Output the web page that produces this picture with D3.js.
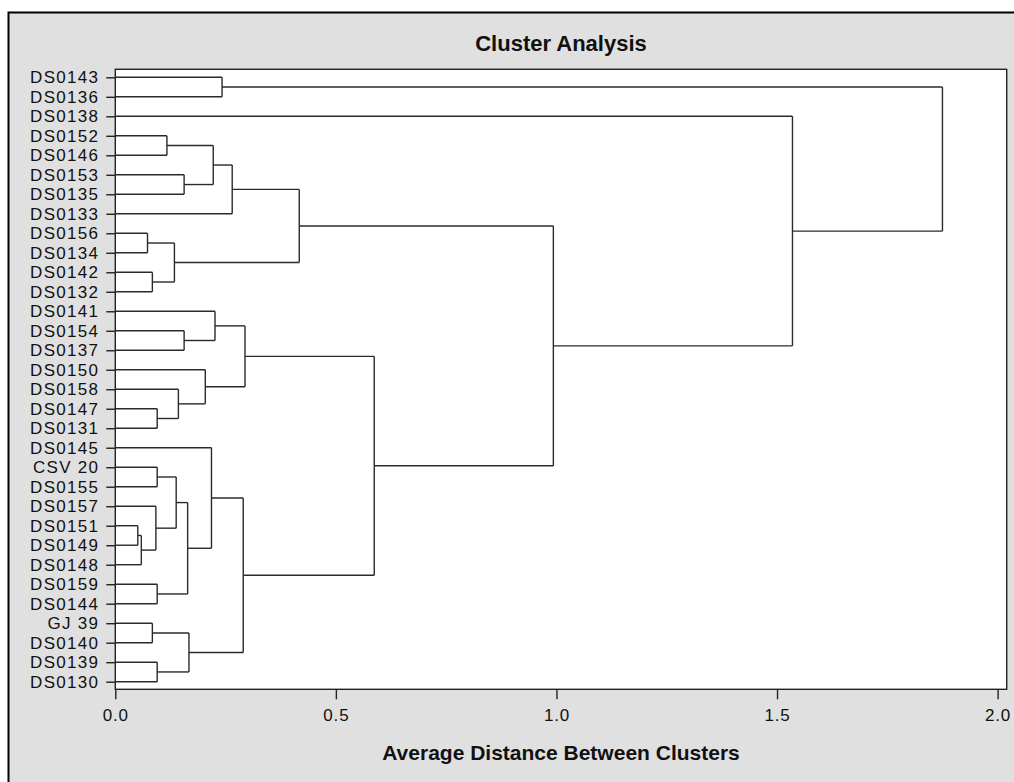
<!DOCTYPE html>
<html>
<head>
<meta charset="utf-8">
<script src="https://cdn.jsdelivr.net/npm/d3@7"></script>
<style>
  html, body { margin: 0; padding: 0; background: #ffffff; }
  svg { display: block; }
  text { font-family: "Liberation Sans", Arial, Helvetica, sans-serif; fill: #111; }
</style>
</head>
<body>
<svg id="chart" width="1014" height="782"></svg>
<script>
// ---- data ----
const title = "Cluster Analysis";
const xTitle = "Average Distance Between Clusters";
const leaves = ["DS0143","DS0136","DS0138","DS0152","DS0146","DS0153","DS0135","DS0133",
  "DS0156","DS0134","DS0142","DS0132","DS0141","DS0154","DS0137","DS0150","DS0158",
  "DS0147","DS0131","DS0145","CSV 20","DS0155","DS0157","DS0151","DS0149","DS0148",
  "DS0159","DS0144","GJ 39","DS0140","DS0139","DS0130"];
// merges: id, left child, right child, distance
const mergeIds   = ["C1","C2","C3","C4","C5","C6","C7","C8","C9","C10","C11","C12","C13","C14","C15",
  "C16","C17","C18","C19","C20","C21","C22","C23","C24","C25","C26","C27","C28","C29","C30","C31"];
const mergeLeft  = ["DS0143","DS0152","DS0153","C2","C4","DS0156","DS0142","C6","C5","DS0154","DS0141",
  "DS0147","DS0158","DS0150","C11","CSV 20","DS0151","C17","DS0157","C16","DS0159","C20","DS0145",
  "GJ 39","DS0139","C24","C23","C15","C9","DS0138","C1"];
const mergeRight = ["DS0136","DS0146","DS0135","C3","DS0133","DS0134","DS0132","C7","C8","DS0137","C10",
  "DS0131","C12","C13","C14","DS0155","DS0149","DS0148","C18","C19","DS0144","C21","C22",
  "DS0140","DS0130","C25","C26","C27","C28","C29","C30"];
const mergeDist  = [0.242,0.117,0.156,0.222,0.265,0.073,0.084,0.134,0.417,0.156,0.226,
  0.095,0.143,0.204,0.294,0.095,0.051,0.059,0.092,0.138,0.095,0.164,0.218,
  0.084,0.095,0.167,0.290,0.587,0.993,1.535,1.875];
const xTicks = [0, 0.5, 1.0, 1.5, 2.0];

// ---- build tree ----
const nodes = new Map();
leaves.forEach(n => nodes.set(n, {name: n, dist: 0}));
mergeIds.forEach((id, i) => {
  nodes.set(id, {name: id, dist: mergeDist[i],
    children: [nodes.get(mergeLeft[i]), nodes.get(mergeRight[i])]});
});
const root = d3.hierarchy(nodes.get(mergeIds[mergeIds.length - 1]));

// ---- layout ----
const svg = d3.select("#chart");
const plot = {left: 115.3, top: 69.3, right: 1006.7, bottom: 689.3};
const x = d3.scaleLinear().domain([0, 2]).range([plot.left, 997.6]);
const y = d3.scalePoint().domain(leaves).range([77.3, 681.7]);

root.eachAfter(n => {
  n.px = x(n.data.dist);
  n.py = n.children ? d3.mean(n.children, c => c.py) : y(n.data.name);
});

// background frame
svg.append("rect").attr("x", 8.5).attr("y", 12.5).attr("width", 1020).attr("height", 790)
  .attr("fill", "#e0e0e0").attr("stroke", "#000").attr("stroke-width", 2);

// plot area
svg.append("rect").attr("x", plot.left).attr("y", plot.top)
  .attr("width", plot.right - plot.left).attr("height", plot.bottom - plot.top)
  .attr("fill", "#fff").attr("stroke", "#222").attr("stroke-width", 1.4);

// title
svg.append("text").attr("x", (plot.left + plot.right) / 2).attr("y", 43)
  .attr("text-anchor", "middle").attr("dominant-baseline", "central")
  .attr("font-size", 22).attr("font-weight", "bold").text(title);

// dendrogram links
const g = svg.append("g").attr("fill", "none").attr("stroke", "#2a2a2a").attr("stroke-width", 1.4);
root.descendants().forEach(n => {
  if (n.children) {
    const ys = n.children.map(c => c.py);
    g.append("line").attr("x1", n.px).attr("x2", n.px)
      .attr("y1", d3.min(ys)).attr("y2", d3.max(ys));
    n.children.forEach(c => {
      g.append("line").attr("x1", c.px).attr("x2", n.px).attr("y1", c.py).attr("y2", c.py);
    });
  }
});

// y axis (leaf labels)
const yAxis = d3.axisLeft(y).tickSize(9).tickPadding(7);
const ya = svg.append("g").attr("transform", `translate(${plot.left},0)`).call(yAxis);
ya.select(".domain").remove();
ya.selectAll("line").attr("stroke", "#222").attr("stroke-width", 1.4);
ya.selectAll("text").attr("font-size", 17).attr("letter-spacing", 1.3)
  .attr("font-family", "'Liberation Sans', Arial, sans-serif").attr("fill", "#111");

// x axis
const xAxis = d3.axisBottom(x).tickValues(xTicks).tickFormat(d3.format(".1f")).tickSize(10).tickPadding(10);
const xa = svg.append("g").attr("transform", `translate(0,${plot.bottom})`).call(xAxis);
xa.select(".domain").remove();
xa.selectAll("line").attr("stroke", "#222").attr("stroke-width", 1.4);
xa.selectAll("text").attr("font-size", 17).attr("letter-spacing", 0.8)
  .attr("font-family", "'Liberation Sans', Arial, sans-serif").attr("fill", "#111");

// x title
svg.append("text").attr("x", (plot.left + plot.right) / 2).attr("y", 752)
  .attr("text-anchor", "middle").attr("dominant-baseline", "central")
  .attr("font-size", 21).attr("font-weight", "bold").text(xTitle);
</script>
</body>
</html>
